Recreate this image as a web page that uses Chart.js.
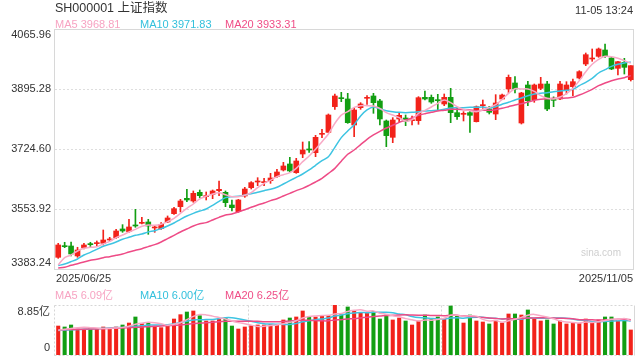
<!DOCTYPE html>
<html><head><meta charset="utf-8">
<script src="https://cdn.jsdelivr.net/npm/chart.js@4.4.1/dist/chart.umd.min.js"></script>
<style>
html,body{margin:0;padding:0;background:#fff;}
#wrap{position:relative;width:640px;height:360px;overflow:hidden;font-family:Arial,"Liberation Sans","Noto Sans CJK SC",sans-serif;}
canvas{position:absolute;left:0;}
.t{position:absolute;white-space:nowrap;font-size:11px;line-height:12px;}
</style></head><body>
<div id="wrap">
<canvas id="k" width="640" height="290" style="top:0"></canvas>
<canvas id="v" width="640" height="70" style="top:290px"></canvas>
<div class="t" style="left:55px;top:1px;font-size:12.5px;line-height:14px;color:#333;font-family:Arial,'Liberation Sans','Noto Sans CJK SC',sans-serif">SH000001 上证指数</div>
<div class="t" id="clock" style="right:7px;top:4px;color:#333"></div>
<div class="t" id="l5" style="left:55px;top:18px;color:#f7a3c2"></div>
<div class="t" id="l10" style="left:140px;top:18px;color:#33c0dc"></div>
<div class="t" id="l20" style="left:225px;top:18px;color:#ef4d86"></div>
<div class="t" id="v5" style="left:55px;top:289px;color:#f7a3c2"></div>
<div class="t" id="v10" style="left:140px;top:289px;color:#33c0dc"></div>
<div class="t" id="v20" style="left:225px;top:289px;color:#ef4d86"></div>
</div>
<script>
// ---- data ----
const d06=[25,26,27,30];
const d07=[1,2,3,4,7,8,9,10,11,14,15,16,17,18,21,22,23,24,25,28,29,30,31];
const d08=[1,4,5,6,7,8,11,12,13,14,15,18,19,20,21,22,25,26,27,28,29];
const d09=[1,2,3,4,5,8,9,10,11,12,15,16,17,18,19,22,23,24,25,26,29,30];
const d10=[9,10,13,14,15,16,17,20,21,22,23,24,27,28,29,30,31];
const d11=[3,4,5];
const pad2=n=>(n<10?'0':'')+n;
const categories=[].concat(
  d06.map(d=>'2025/06/'+pad2(d)),d07.map(d=>'2025/07/'+pad2(d)),d08.map(d=>'2025/08/'+pad2(d)),
  d09.map(d=>'2025/09/'+pad2(d)),d10.map(d=>'2025/10/'+pad2(d)),d11.map(d=>'2025/11/'+pad2(d)));

const opens=[3416.5,3448.7,3448.7,3420.3,3444.0,3455.4,3455.4,3456.3,3465.8,3472.4,
3497.1,3489.5,3508.5,3513.2,3517.0,3500.0,3498.0,3517.0,3540.7,3560.6,
3584.3,3576.7,3601.4,3589.0,3595.7,3606.1,3601.4,3565.3,3546.4,3590.9,
3614.6,3630.7,3628.9,3634.5,3645.9,3664.9,3682.0,3657.3,3710.4,3724.6,
3714.2,3766.4,3772.0,3845.1,3870.6,3866.9,3792.9,3842.2,3868.8,3875.4,
3861.2,3804.3,3757.8,3810.0,3812.8,3805.2,3805.2,3871.6,3871.6,3864.0,
3852.6,3871.6,3828.0,3823.2,3828.0,3802.4,3847.9,3838.4,3824.2,3866.8,
3895.3,3912.4,3798.6,3906.7,3864.9,3897.2,3909.5,3868.0,3866.8,3892.4,
3901.9,3926.6,3966.4,3980.6,3988.2,4006.2,3983.5,3954.1,3971.2,3921.8];
const highs=[3456.3,3459.2,3460.0,3445.0,3456.3,3459.2,3463.0,3494.2,3473.4,3496.1,
3509.4,3524.6,3553.0,3530.3,3524.6,3505.6,3515.1,3534.1,3558.7,3581.5,
3609.9,3605.2,3608.0,3602.3,3608.0,3633.6,3605.2,3579.6,3581.5,3615.6,
3631.7,3643.0,3641.2,3655.4,3666.8,3686.7,3700.9,3698.1,3744.5,3745.5,
3763.5,3780.6,3824.2,3881.1,3885.8,3883.0,3840.3,3856.4,3876.3,3883.0,
3865.9,3807.1,3813.8,3828.9,3821.3,3818.5,3873.5,3889.6,3878.2,3880.1,
3881.1,3897.2,3842.2,3830.8,3832.7,3847.0,3864.0,3846.0,3879.2,3881.1,
3935.1,3930.4,3885.8,3917.1,3909.5,3928.5,3917.1,3873.0,3917.1,3916.1,
3923.8,3947.4,3997.7,4009.1,4011.9,4023.3,3985.4,3974.0,3982.5,3961.7];
const lows=[3413.6,3444.0,3420.3,3416.5,3440.2,3446.8,3448.7,3451.6,3463.0,3470.5,
3487.6,3487.6,3501.8,3511.3,3481.9,3487.6,3496.1,3515.1,3538.8,3545.4,
3574.8,3573.0,3586.2,3579.6,3583.3,3591.9,3560.6,3548.3,3544.5,3587.1,
3610.8,3620.3,3620.3,3626.9,3644.0,3662.1,3659.2,3655.4,3700.0,3715.2,
3702.8,3756.9,3771.1,3837.5,3859.3,3797.6,3759.7,3837.5,3851.7,3826.1,
3792.9,3731.3,3742.6,3801.4,3791.0,3792.9,3794.8,3864.0,3854.5,3835.6,
3847.9,3799.5,3809.0,3804.3,3772.0,3801.4,3840.3,3824.2,3808.1,3864.9,
3883.9,3883.9,3795.7,3847.9,3857.4,3893.4,3833.7,3845.0,3864.9,3881.1,
3876.3,3923.8,3961.7,3974.0,3985.4,3985.4,3950.3,3935.1,3937.9,3918.0];
const closes=[3451.6,3446.8,3426.0,3437.3,3451.6,3452.5,3457.3,3465.8,3468.6,3491.4,
3491.4,3502.8,3505.6,3516.0,3505.6,3501.8,3510.4,3528.4,3554.9,3576.7,
3579.6,3598.5,3591.9,3591.9,3605.2,3609.9,3572.0,3557.7,3579.6,3610.8,
3628.9,3633.6,3630.7,3642.1,3659.2,3676.3,3662.1,3690.5,3721.8,3721.8,
3757.8,3769.2,3821.3,3875.4,3867.8,3799.5,3835.6,3852.6,3870.6,3856.4,
3810.0,3762.6,3807.1,3820.4,3804.3,3808.1,3870.6,3866.9,3858.3,3862.1,
3871.6,3828.0,3816.6,3825.1,3820.4,3845.1,3850.7,3828.9,3855.5,3878.2,
3928.5,3895.3,3883.9,3862.1,3906.7,3909.5,3838.4,3863.0,3909.5,3906.7,
3916.1,3944.6,3992.9,3983.5,4009.1,3987.3,3952.2,3973.0,3956.9,3961.7];

const ma5=[3394.7,3415.5,3423.1,3434.5,3442.1,3444.9,3446.8,3454.4,3462.0,3472.4,
3480.0,3488.5,3496.1,3504.7,3508.5,3507.5,3510.4,3518.0,3527.4,3541.6,
3555.9,3568.2,3582.8,3590.0,3596.6,3600.4,3594.7,3589.0,3589.0,3592.8,
3600.4,3614.6,3627.0,3635.5,3646.0,3651.6,3657.3,3669.6,3688.6,3704.7,
3723.7,3745.5,3767.3,3797.6,3821.0,3830.8,3843.2,3847.9,3847.9,3847.0,
3840.3,3828.0,3821.3,3813.8,3804.0,3808.0,3826.1,3834.6,3844.1,3854.5,
3864.0,3856.4,3845.1,3837.5,3833.7,3830.8,3836.0,3843.1,3850.7,3865.9,
3883.0,3896.2,3895.3,3895.3,3888.6,3876.3,3868.8,3866.8,3872.5,3882.0,
3897.2,3919.0,3944.6,3965.5,3979.7,3988.2,3987.3,3982.5,3975.9,3968.81];
const ma10=[3392.8,3397.5,3404.2,3411.7,3423.1,3430.7,3439.2,3447.8,3453.5,3460.1,
3467.7,3473.4,3479.0,3482.8,3488.5,3492.3,3498.0,3505.6,3514.1,3524.6,
3534.1,3541.6,3548.0,3553.9,3564.4,3575.8,3586.2,3589.0,3590.0,3593.8,
3597.6,3601.4,3606.1,3609.9,3615.6,3625.1,3634.5,3644.0,3653.5,3664.9,
3678.2,3691.4,3702.8,3729.4,3757.0,3775.8,3793.8,3818.5,3835.6,3844.1,
3838.4,3833.7,3830.8,3828.9,3828.0,3828.9,3830.8,3832.7,3833.7,3834.6,
3837.5,3841.3,3842.2,3842.2,3843.2,3843.2,3844.0,3841.2,3845.0,3851.7,
3857.4,3864.0,3869.7,3876.3,3881.1,3883.0,3884.9,3887.7,3889.6,3891.5,
3894.3,3904.8,3914.2,3925.6,3940.8,3950.3,3959.8,3965.5,3969.2,3971.83];
const ma20=[3386.1,3388.0,3393.7,3398.4,3403.2,3407.9,3410.8,3415.5,3418.4,3422.2,
3426.0,3431.6,3436.4,3441.1,3446.8,3452.5,3460.1,3469.6,3479.0,3488.5,
3497.1,3505.6,3512.0,3515.1,3522.7,3530.2,3536.9,3539.7,3545.4,3552.0,
3558.7,3565.3,3571.0,3577.7,3583.3,3590.9,3598.5,3606.1,3612.7,3621.3,
3630.7,3641.2,3655.0,3669.6,3690.0,3709.5,3721.8,3736.9,3752.1,3764.5,
3774.9,3784.4,3792.0,3800.5,3807.1,3812.8,3820.4,3825.1,3828.9,3832.7,
3834.6,3837.5,3837.5,3836.5,3835.6,3833.7,3834.6,3834.6,3836.5,3840.3,
3845.0,3849.8,3853.6,3858.3,3863.1,3865.9,3867.8,3868.7,3868.7,3869.7,
3871.6,3878.2,3885.8,3894.3,3904.8,3912.4,3919.0,3923.7,3927.5,3933.31];

const volumes=[5.13,4.96,5.31,4.60,4.43,4.90,4.60,4.96,4.60,4.96,
5.31,5.66,6.73,5.55,5.66,4.96,4.84,5.31,6.37,7.14,
7.61,7.79,6.96,6.02,6.02,6.37,6.55,5.13,4.60,4.96,
5.19,5.31,5.31,5.43,5.43,6.20,6.55,6.73,7.79,6.73,
6.73,6.96,6.96,8.85,7.26,8.50,7.91,7.55,7.43,7.67,
6.37,7.08,6.20,6.55,6.02,5.31,6.02,7.08,6.37,6.73,
6.37,8.67,6.96,5.66,7.08,6.02,5.84,5.49,6.02,5.66,
7.26,7.26,7.08,7.97,6.37,6.02,6.20,5.49,6.02,5.49,
5.66,5.60,6.37,5.66,6.20,6.73,6.73,6.20,6.37,4.43];
const vma5=[4.40,4.55,4.70,4.82,4.89,4.84,4.77,4.70,4.70,4.80,
4.89,5.10,5.45,5.64,5.78,5.71,5.55,5.26,5.43,5.72,
6.25,6.84,7.17,7.10,6.88,6.63,6.38,6.02,5.73,5.52,
5.29,5.04,5.07,5.24,5.33,5.54,5.78,6.07,6.54,6.80,
6.91,6.99,7.03,7.25,7.35,7.71,7.90,8.01,7.73,7.81,
7.39,7.22,6.95,6.77,6.44,6.23,6.02,6.20,6.16,6.30,
6.51,7.04,7.02,6.88,6.95,6.88,6.31,6.02,6.09,5.81,
6.05,6.34,6.66,7.05,7.19,6.94,6.73,6.41,6.02,5.84,
5.77,5.65,5.83,5.76,5.90,6.11,6.34,6.30,6.45,6.09];
const vma10=[4.35,4.40,4.45,4.50,4.55,4.60,4.66,4.72,4.78,4.85,
4.87,4.94,5.08,5.17,5.29,5.30,5.33,5.36,5.54,5.75,
5.98,6.20,6.22,6.27,6.30,6.44,6.61,6.60,6.42,6.20,
5.96,5.71,5.55,5.49,5.43,5.42,5.41,5.57,5.89,6.07,
6.23,6.39,6.55,6.90,7.08,7.31,7.45,7.52,7.49,7.58,
7.55,7.56,7.48,7.25,7.13,6.81,6.62,6.58,6.47,6.37,
6.37,6.53,6.61,6.52,6.63,6.70,6.68,6.52,6.49,6.38,
6.47,6.33,6.34,6.57,6.50,6.50,6.54,6.54,6.54,6.52,
6.36,6.19,6.12,5.89,5.87,5.94,6.00,6.07,6.11,6.00];
const vma20=[4.45,4.48,4.51,4.54,4.57,4.60,4.63,4.66,4.70,4.74,
4.78,4.83,4.89,4.95,5.01,5.07,5.13,5.19,5.25,5.30,
5.43,5.57,5.65,5.72,5.80,5.87,5.97,5.98,5.98,5.98,
5.97,5.96,5.89,5.88,5.87,5.93,6.01,6.09,6.16,6.14,
6.10,6.05,6.05,6.20,6.26,6.37,6.43,6.55,6.69,6.83,
6.89,6.98,7.02,7.08,7.11,7.06,7.04,7.05,6.98,6.98,
6.96,7.05,7.05,6.89,6.88,6.76,6.65,6.55,6.48,6.38,
6.42,6.43,6.48,6.55,6.57,6.60,6.61,6.53,6.52,6.45,
6.42,6.26,6.23,6.23,6.19,6.22,6.27,6.31,6.33,6.25];

const priceTicks=[4065.96,3895.28,3724.60,3553.92,3383.24];
const priceTickLabels=['4065.96','3895.28','3724.60','3553.92','3383.24'];
const volTicks=[8.85,0];
const volTickLabels=['8.85亿','0'];
const stampText='11-05 13:24';

// ---- styles ----
const RED='#f2221a', GREEN='#129e12';
const C5='#f8aac6', C10='#3ec4e2', C20='#ee4b86';
const FONT='11px Arial, "Liberation Sans", "Noto Sans CJK SC", sans-serif';
const up=closes.map((c,i)=>c>=opens[i]);
const colors=up.map(u=>u?RED:GREEN);

document.getElementById('clock').textContent=stampText;
document.getElementById('l5').textContent='MA5 '+ma5[ma5.length-1].toFixed(2);
document.getElementById('l10').textContent='MA10 '+ma10[ma10.length-1].toFixed(2);
document.getElementById('l20').textContent='MA20 '+ma20[ma20.length-1].toFixed(2);
document.getElementById('v5').textContent='MA5 '+vma5[vma5.length-1].toFixed(2)+'亿';
document.getElementById('v10').textContent='MA10 '+vma10[vma10.length-1].toFixed(2)+'亿';
document.getElementById('v20').textContent='MA20 '+vma20[vma20.length-1].toFixed(2)+'亿';

function dotted(ctx,x1,y1,x2,y2,color){
  ctx.save();ctx.strokeStyle=color;ctx.lineWidth=1;ctx.setLineDash([2,2]);
  ctx.beginPath();ctx.moveTo(x1,y1);ctx.lineTo(x2,y2);ctx.stroke();ctx.restore();
}

const mainDeco={
  id:'mainDeco',
  beforeDatasetsDraw(chart){
    const {ctx,chartArea:a,scales:{y}}=chart;
    ctx.save();
    priceTicks.forEach(v=>{
      const py=Math.round(y.getPixelForValue(v))+0.5;
      if(py>a.top+2&&py<a.bottom-2) dotted(ctx,a.left,py,a.right,py,'#dedede');
    });
    ctx.strokeStyle='#d8d8d8';ctx.lineWidth=1;
    ctx.strokeRect(a.left-0.5,a.top+0.5,a.right-a.left,a.bottom-a.top);
    ctx.fillStyle='#cfcfcf';ctx.font='10px Arial, "Liberation Sans", sans-serif';
    ctx.textAlign='right';ctx.textBaseline='middle';
    ctx.fillText('sina.com',a.right-13,a.bottom-16);
    ctx.fillStyle='#333';ctx.font=FONT;ctx.textAlign='right';ctx.textBaseline='middle';
    priceTicks.forEach((v,i)=>{
      let py=y.getPixelForValue(v);
      py=Math.max(a.top+6,Math.min(a.bottom-6,py));
      ctx.fillText(priceTickLabels[i],a.left-4,py);
    });
    ctx.textAlign='left';
    ctx.fillText(categories[0],a.left+1,a.bottom+10);
    ctx.textAlign='right';
    ctx.fillText(categories[categories.length-1],a.right-1,a.bottom+10);
    ctx.restore();
  }
};

const volDeco={
  id:'volDeco',
  beforeDatasetsDraw(chart){
    const {ctx,chartArea:a,scales:{y}}=chart;
    ctx.save();
    const t=a.top+0.5,b=a.bottom+0.5,l=a.left-0.5,r=a.right+0.5,w=a.right-a.left;
    dotted(ctx,l,t,r,t,'#d6d6d6');
    dotted(ctx,l,b,r,b,'#d6d6d6');
    dotted(ctx,l,t,l,b,'#d6d6d6');
    dotted(ctx,Math.round(a.left+w/3)+0.5,t,Math.round(a.left+w/3)+0.5,b,'#d6d6d6');
    dotted(ctx,Math.round(a.left+2*w/3)+0.5,t,Math.round(a.left+2*w/3)+0.5,b,'#d6d6d6');
    ctx.strokeStyle='#d8d8d8';ctx.lineWidth=1;
    ctx.beginPath();ctx.moveTo(r,t);ctx.lineTo(r,b);ctx.stroke();
    ctx.fillStyle='#333';ctx.font=FONT;ctx.textAlign='right';ctx.textBaseline='middle';
    volTicks.forEach((v,i)=>{
      let py=y.getPixelForValue(v);
      py=Math.max(a.top+7,Math.min(a.bottom-7,py));
      ctx.fillText(volTickLabels[i],a.left-5,py);
    });
    ctx.restore();
  }
};

const lineDs=(data,color,order)=>({type:'line',data,borderColor:color,borderWidth:1.5,
  pointRadius:0,tension:0.3,fill:false,order});

new Chart(document.getElementById('k'),{
  type:'bar',
  data:{labels:categories,datasets:[
    {type:'bar',data:lows.map((l,i)=>[l,highs[i]]),backgroundColor:colors,barThickness:1,grouped:false,order:3},
    {type:'bar',data:opens.map((o,i)=>[o,closes[i]]),backgroundColor:colors,barThickness:5,minBarLength:1,grouped:false,order:2},
    lineDs(ma20,C20,1),lineDs(ma10,C10,1),lineDs(ma5,C5,0)
  ]},
  options:{responsive:false,animation:false,devicePixelRatio:1,
    layout:{padding:{left:55,right:6,top:29,bottom:21}},
    scales:{x:{type:'category',offset:true,display:false},
            y:{type:'linear',min:priceTicks[4],max:priceTicks[0],display:false}},
    plugins:{legend:{display:false},tooltip:{enabled:false}}},
  plugins:[mainDeco]
});

new Chart(document.getElementById('v'),{
  type:'bar',
  data:{labels:categories,datasets:[
    {type:'bar',data:volumes,backgroundColor:colors,barThickness:3.4,grouped:false,order:3},
    lineDs(vma20,C20,1),lineDs(vma10,C10,1),lineDs(vma5,C5,0)
  ]},
  options:{responsive:false,animation:false,devicePixelRatio:1,
    layout:{padding:{left:55,right:6,top:15,bottom:5}},
    scales:{x:{type:'category',offset:true,display:false},
            y:{type:'linear',min:0,max:volTicks[0],display:false}},
    plugins:{legend:{display:false},tooltip:{enabled:false}}},
  plugins:[volDeco]
});
</script>
</body></html>
